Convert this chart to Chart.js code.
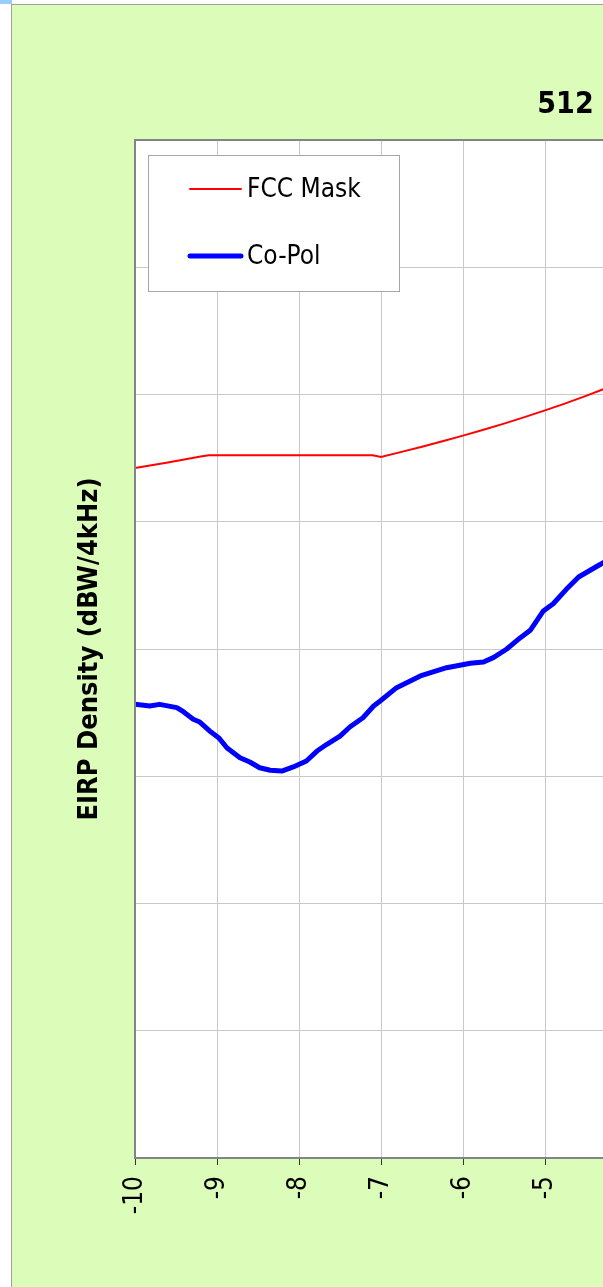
<!DOCTYPE html>
<html>
<head>
<meta charset="utf-8">
<script src="https://cdn.jsdelivr.net/npm/chart.js@4.4.1/dist/chart.umd.min.js"></script>
<style>
  html, body { margin: 0; padding: 0; overflow: hidden; background: #fff; width: 603px; height: 1287px; }
  #handle { position: absolute; left: 0; top: 0; width: 12px; height: 4px; background: #99ccff; }
  #frame { position: absolute; left: 11px; top: 4px; width: 1200px; height: 1400px; background: #dcfcb9;
           border-left: 1px solid #a0a0a0; border-top: 1px solid #a0a0a0; }
  #chart { position: absolute; left: 0; top: 0; }
</style>
</head>
<body>
<div id="handle"></div>
<div id="frame"><canvas id="chart" width="1108" height="1290"></canvas></div>
<script>
// off-axis angle (deg) vs EIRP density (dBW/4kHz)
const maskAngles = [-10, -9.6, -9.2, -9.1, -7.1, -7.0, -6.75, -6.5, -6.25, -6.0, -5.75, -5.5, -5.25, -5.0, -4.75, -4.5, -4.25, -4.0];
const maskEirp   = [-5.78, -5.34, -4.87, -4.78, -4.78, -4.91, -4.51, -4.10, -3.68, -3.23, -2.77, -2.29, -1.78, -1.25, -0.70, -0.11, 0.51, 1.17];

const copolAngles = [-10.00, -9.82, -9.70, -9.49, -9.41, -9.29, -9.21, -9.09, -8.98, -8.88, -8.72, -8.60, -8.48, -8.35, -8.21,
                     -8.07, -7.91, -7.78, -7.66, -7.50, -7.38, -7.22, -7.09, -7.01, -6.81, -6.52, -6.20, -5.91, -5.75, -5.63,
                     -5.47, -5.30, -5.18, -5.02, -4.90, -4.74, -4.59, -4.36, -4.20, -4.00];
const copolEirp   = [-24.35, -24.48, -24.35, -24.61, -24.93, -25.52, -25.74, -26.44, -26.97, -27.76, -28.54, -28.88, -29.33, -29.53, -29.59,
                     -29.27, -28.80, -28.02, -27.49, -26.84, -26.13, -25.40, -24.48, -24.09, -23.04, -22.12, -21.47, -21.12, -21.02, -20.68,
                     -20.02, -19.11, -18.53, -17.01, -16.44, -15.31, -14.34, -13.48, -12.90, -12.30];

const xRange = [-10, 2];
const yRange = [-60, 20];
const chartTitle = '512';
const yTitle = 'EIRP Density (dBW/4kHz)';

// Tahoma look-alike
const FONT = "'DejaVu Sans Condensed', 'DejaVu Sans', sans-serif";

const toPoints = (xs, ys) => xs.map((x, i) => ({ x, y: ys[i] }));

// white plot area + grey frame round it
const plotFrame = {
  id: 'plotFrame',
  beforeDraw(chart) {
    const { ctx, chartArea: a } = chart;
    ctx.save();
    ctx.fillStyle = '#fff';
    ctx.fillRect(a.left, a.top, a.right - a.left, a.bottom - a.top);
    ctx.restore();
  },
  afterDatasetsDraw(chart) {
    const { ctx, chartArea: a } = chart;
    ctx.save();
    ctx.strokeStyle = '#848484';
    ctx.lineWidth = 2;
    ctx.strokeRect(a.left, a.top, a.right - a.left, a.bottom - a.top);
    ctx.restore();
  }
};

// Excel style legend box sitting inside the plot
const boxLegend = {
  id: 'boxLegend',
  afterDraw(chart) {
    const { ctx, chartArea: a } = chart;
    const x0 = a.left + 13, y0 = a.top + 15, w = 251, h = 136;
    ctx.save();
    ctx.fillStyle = '#fff';
    ctx.fillRect(x0, y0, w, h);
    ctx.strokeStyle = '#a6a6a6';
    ctx.lineWidth = 1;
    ctx.strokeRect(x0 + 0.5, y0 + 0.5, w, h);
    ctx.font = '26px ' + FONT;
    ctx.textBaseline = 'middle';
    ctx.fillStyle = '#000';
    chart.data.datasets.forEach((ds, i) => {
      const y = y0 + 34 + i * 67;
      ctx.strokeStyle = ds.borderColor;
      ctx.lineWidth = ds.borderWidth;
      ctx.lineCap = 'round';
      ctx.beginPath();
      ctx.moveTo(x0 + 42, y);
      ctx.lineTo(x0 + 93, y);
      ctx.stroke();
      ctx.fillText(ds.label, x0 + 99, y + 1.5);
    });
    ctx.restore();
  }
};

new Chart(document.getElementById('chart'), {
  type: 'line',
  data: {
    datasets: [
      { label: 'FCC Mask', data: toPoints(maskAngles, maskEirp), borderColor: '#ff0000', borderWidth: 2, pointRadius: 0, tension: 0 },
      { label: 'Co-Pol', data: toPoints(copolAngles, copolEirp), borderColor: '#0000ff', borderWidth: 5, pointRadius: 0, tension: 0, borderJoinStyle: 'round' }
    ]
  },
  options: {
    responsive: false,
    devicePixelRatio: 1,
    animation: false,
    layout: { padding: { top: 0, left: 0, right: 1, bottom: 0 } },
    plugins: {
      legend: { display: false },
      tooltip: { enabled: false },
      title: {
        display: true,
        text: chartTitle,
        color: '#000',
        font: { family: FONT, size: 30, weight: 'bold' },
        padding: { top: 82, bottom: 17 }
      }
    },
    scales: {
      x: {
        type: 'linear',
        min: xRange[0], max: xRange[1],
        afterFit: s => { s.height = 137; s.paddingLeft = 0; s.paddingRight = 0; },
        border: { display: false },
        grid: { color: '#c8c8c8', lineWidth: 1, drawTicks: true, tickLength: 7, tickColor: '#333' },
        ticks: {
          stepSize: 1, autoSkip: false, minRotation: 90, maxRotation: 90, padding: 11,
          color: '#000', font: { family: FONT, size: 26 }
        }
      },
      y: {
        min: yRange[0], max: yRange[1],
        afterFit: s => { s.width = 123; s.paddingTop = 0; s.paddingBottom = 0; },
        border: { display: false },
        grid: { color: '#c8c8c8', lineWidth: 1, drawTicks: false },
        ticks: { display: false, stepSize: 10 },
        title: {
          display: true, text: yTitle, color: '#000',
          font: { family: FONT, size: 27, weight: 'bold' },
          padding: { top: 62, bottom: 0 }
        }
      }
    }
  },
  plugins: [plotFrame, boxLegend]
});
</script>
</body>
</html>
